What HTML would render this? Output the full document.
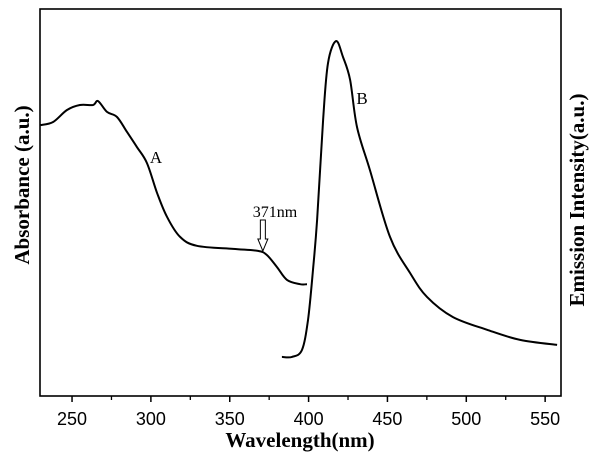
<!DOCTYPE html>
<html><head><meta charset="utf-8"><style>body{margin:0;background:#fff}svg{display:block}</style></head>
<body>
<svg id="chart" width="600" height="460" xmlns="http://www.w3.org/2000/svg">
<rect x="40" y="9" width="521" height="387" fill="none" stroke="#000" stroke-width="1.6"/>
<g id="xticks"></g>
<g id="series"></g>
<text x="300" y="447" text-anchor="middle" font-family="Liberation Serif, serif" font-weight="bold" font-size="21">Wavelength(nm)</text>
<text transform="translate(29,185) rotate(-90)" text-anchor="middle" font-family="Liberation Serif, serif" font-weight="bold" font-size="21">Absorbance (a.u.)</text>
<text transform="translate(584,200) rotate(-90)" text-anchor="middle" font-family="Liberation Serif, serif" font-weight="bold" font-size="21">Emission Intensity(a.u.)</text>
<text x="156" y="163" text-anchor="middle" font-family="Liberation Serif, serif" font-size="17">A</text>
<text x="362" y="104" text-anchor="middle" font-family="Liberation Serif, serif" font-size="17">B</text>
<text x="275" y="217" text-anchor="middle" font-family="Liberation Serif, serif" font-size="16">371nm</text>
<path id="arrow" fill="#fff" stroke="#000" stroke-width="1"/>
</svg>
<script>
const xTicks=[250,300,350,400,450,500,550];
const xMinor=[275,325,375,425,475,525];
const absWl=[230,238,246.8,255,263.3,266.5,272.2,278.5,284.9,291.2,297.5,303.9,310.2,318.5,329.2,352.1,367.9,373.6,380,386.3,394.6,399];
const absVal=[70.0,70.8,73.9,75.2,75.2,76.2,73.4,72.1,68.2,64.3,60.2,52.5,46.3,41.1,38.8,38.0,37.5,36.4,33.3,30.0,28.9,28.9];
const emWl=[383.1,389.5,395.8,399.6,402.8,405.4,409.2,412.3,417.4,421.8,426.3,430.7,438.9,451.6,464.3,475.1,491.6,513.2,534.1,557.6];
const emVal=[10.1,10.1,11.9,19.6,32.6,45.5,71.3,86.0,91.7,87.6,81.7,69.5,58.4,41.1,31.8,25.6,20.4,17.1,14.5,13.2];
const peakWl=371;
const NS='http://www.w3.org/2000/svg';
function xs(w){return 40.5+(w-230)*1.577;}
function ys(v){return 396-v*3.87;}
const tg=document.getElementById('xticks');
xTicks.forEach(t=>{
  const l=document.createElementNS(NS,'line');
  l.setAttribute('x1',xs(t));l.setAttribute('x2',xs(t));l.setAttribute('y1',396);l.setAttribute('y2',402);
  l.setAttribute('stroke','#000');l.setAttribute('stroke-width','1.5');
  
  
  tg.appendChild(l);
  const tx=document.createElementNS(NS,'text');
  tx.setAttribute('x',xs(t));tx.setAttribute('y',425);tx.setAttribute('text-anchor','middle');
  tx.setAttribute('font-family','Liberation Sans, sans-serif');tx.setAttribute('font-size','18');
  tx.textContent=t;
  
  
  tg.appendChild(tx);
});
xMinor.forEach(t=>{
  const l=document.createElementNS(NS,'line');
  l.setAttribute('x1',xs(t));l.setAttribute('x2',xs(t));l.setAttribute('y1',396);l.setAttribute('y2',400);
  l.setAttribute('stroke','#000');l.setAttribute('stroke-width','1.3');
  
  
  tg.appendChild(l);
});
const sg=document.getElementById('series');
function line(wl,val,name){
  const pts=wl.map((w,i)=>[xs(w),ys(val[i])]);
  let d='M'+pts[0][0].toFixed(1)+','+pts[0][1].toFixed(1);
  for(let i=0;i<pts.length-1;i++){
    const p0=pts[Math.max(0,i-1)],p1=pts[i],p2=pts[i+1],p3=pts[Math.min(pts.length-1,i+2)];
    const c1=[p1[0]+(p2[0]-p0[0])/6,p1[1]+(p2[1]-p0[1])/6];
    const c2=[p2[0]-(p3[0]-p1[0])/6,p2[1]-(p3[1]-p1[1])/6];
    d+=` C${c1[0].toFixed(1)},${c1[1].toFixed(1)} ${c2[0].toFixed(1)},${c2[1].toFixed(1)} ${p2[0].toFixed(1)},${p2[1].toFixed(1)}`;
  }
  const p=document.createElementNS(NS,'path');
  p.setAttribute('d',d);
  p.setAttribute('fill','none');p.setAttribute('stroke','#000');p.setAttribute('stroke-width','2');
  p.setAttribute('stroke-linejoin','round');
  
  
  sg.appendChild(p);
}
line(absWl,absVal,'absorbance-curve-a');
line(emWl,emVal,'emission-curve-b');
const ax=xs(peakWl), ay=251;
document.getElementById('arrow').setAttribute('d',
 `M${ax-2.5},${ay-31} L${ax+2.5},${ay-31} L${ax+2.5},${ay-12} L${ax+5},${ay-12} L${ax},${ay} L${ax-5},${ay-12} L${ax-2.5},${ay-12} Z`);
</script>
</body></html>
